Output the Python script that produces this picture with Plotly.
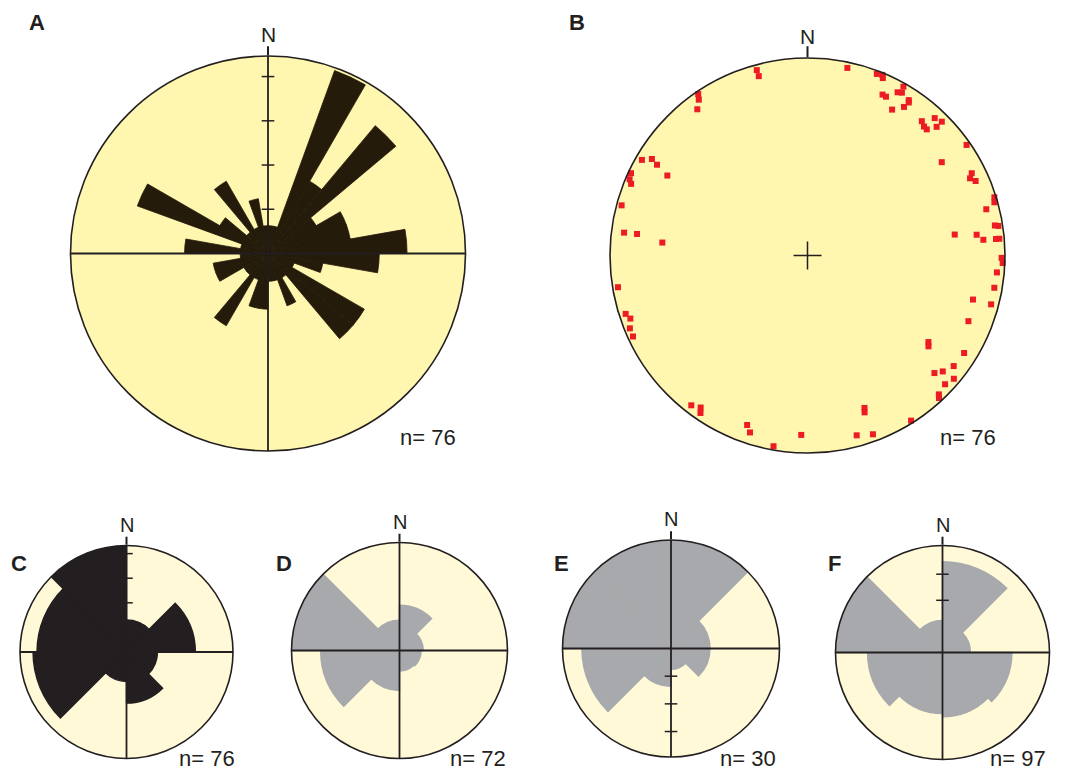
import plotly.graph_objects as go

# The page body has an 8px margin; the figure is sized and positioned to compensate.
PAGE_W, PAGE_H = 1076, 771
OFF = 8
W, H = PAGE_W - OFF, PAGE_H - OFF
FONT = "Liberation Sans, Arial, Helvetica, sans-serif"
INK = "#231F20"

# ---------------- Panel A: rose diagram, 10 degree bins (counts) ----------------
a_bin_start = list(range(0, 360, 10))
a_counts = [1, 1, 7, 3, 6, 2, 3, 3, 5, 4, 2, 1, 4, 4, 1, 2, 1, 1,
            2, 2, 1, 3, 1, 1, 2, 2, 1, 3, 1, 5, 2, 1, 3, 1, 2, 1]
a_ticks = [1.59, 3.18, 4.77, 6.36]
a_rmax = 7.1
a_n = "n= 76"

# ---------------- Panel B: poles (trend in degrees, normalised distance) ----------------
b_trend = [344.7, 344.8, 12.0, 20.9, 22.5, 23.0, 29.6, 28.9, 30.1, 25.0, 26.3, 33.1, 33.5, 30.1, 33.0,
           325.9, 325.1, 323.0, 40.4, 42.8, 45.1, 42.1, 43.4, 45.1, 55.2, 55.2, 63.4, 64.6, 66.1,
           300.0, 301.8, 301.1, 299.7, 295.0, 293.2, 292.1, 285.1, 72.7, 74.1, 75.5, 277.1, 277.2, 275.1,
           81.9, 83.0, 84.9, 80.9, 81.2, 85.0, 85.0, 90.7, 92.2, 95.1, 99.8, 104.9, 104.9,
           260.5, 252.2, 250.4, 247.7, 245.1, 112.2, 125.6, 126.9, 121.9, 127.1, 132.8, 130.6, 130.1,
           133.1, 136.6, 137.3, 217.8, 215.1, 214.2, 159.5, 160.0, 147.9, 199.6, 198.0, 182.0, 164.7,
           159.9, 190.1]
b_dist = [0.973, 0.941, 0.971, 0.984, 0.990, 0.976, 0.983, 0.944, 0.953, 0.899, 0.897, 0.939, 0.929, 0.854, 0.897,
          0.987, 0.962, 0.927, 0.893, 0.948, 0.960, 0.880, 0.879, 0.923, 0.981, 0.828, 0.930, 0.911, 0.931,
          0.968, 0.927, 0.890, 0.817, 0.986, 0.980, 0.964, 0.975, 0.991, 0.984, 0.935, 0.936, 0.870, 0.738,
          0.753, 0.863, 0.894, 0.961, 0.978, 0.958, 0.975, 0.983, 0.989, 0.963, 0.960, 0.867, 0.962,
          0.973, 0.967, 0.952, 0.972, 0.974, 0.880, 0.753, 0.766, 0.934, 0.928, 0.876, 0.902, 0.969,
          0.954, 0.968, 0.982, 0.960, 0.941, 0.964, 0.824, 0.845, 0.987, 0.911, 0.942, 0.909, 0.944,
          0.964, 0.981]
b_n = "n= 76"

# ---------------- Panels C-F: rose diagrams, 45 degree bins ----------------
cf_bin_start = [0, 45, 90, 135, 180, 225, 270, 315]
c_vals = [1.3, 2.8, 1.26, 2.08, 1.2, 3.8, 3.64, 4.8]
c_ticks = [1, 2, 3, 4]
c_rmax = 4.33
c_n = "n= 76"

d_vals = [1.68, 0.88, 0.8, 0.76, 1.48, 2.92, 4.3, 1.12]
d_ticks = []
d_rmax = 4.0
d_n = "n= 72"

e_vals = [4.3, 1.41, 1.41, 0.75, 1.37, 3.22, 4.3, 4.3]
e_ticks = [1, 2, 3]
e_rmax = 3.92
e_n = "n= 30"

f_vals = [3.48, 1.07, 2.66, 2.46, 2.34, 2.87, 4.4, 1.23]
f_ticks = [2, 3]
f_rmax = 4.1
f_n = "n= 97"

# ---------------- styling / geometry (page pixels) ----------------
BG_BIG = "#FFF6B0"
BG_SMALL = "#FFF9D8"
BLACK_A = "#241B0B"
BLACK_C = "#231F20"
GRAY = "#A7A9AC"
RED = "#ED1C24"

panels = {
    "A": dict(cx=268.0, cy=253.5, R=197.5),
    "B": dict(cx=807.5, cy=255.5, R=197.5),
    "C": dict(cx=126.5, cy=652.0, R=106.5),
    "D": dict(cx=399.5, cy=650.5, R=108.0),
    "E": dict(cx=671.0, cy=648.5, R=108.5),
    "F": dict(cx=942.5, cy=652.5, R=107.0),
}


def px(x):
    return (x - OFF) / W


def py(y):
    return 1 - (y - OFF) / H


def polar_cfg(p, rmax, bg, ticklen):
    cx, cy, R = p["cx"], p["cy"], p["R"]
    return dict(
        domain=dict(x=[px(cx - R), px(cx + R)], y=[py(cy + R), py(cy - R)]),
        bgcolor=bg, bargap=0, hole=0,
        radialaxis=dict(range=[0, rmax], visible=False),
        angularaxis=dict(rotation=90, direction="clockwise", showgrid=False,
                         showline=True, linecolor=INK, linewidth=1.6,
                         tickmode="array", tickvals=[0], ticktext=[""],
                         ticks="outside", ticklen=ticklen, tickwidth=1.6, tickcolor=INK,
                         showticklabels=False),
    )


fig = go.Figure()


def add_rose(sub, starts, width, vals, color, edge_w):
    fig.add_trace(go.Barpolar(
        r=vals, theta=[s + width / 2 for s in starts], width=[width] * len(starts),
        marker=dict(color=color, line=dict(color=color, width=edge_w)),
        subplot=sub, showlegend=False, hoverinfo="skip"))


def add_cross(sub, rmax):
    for th in ([0, 0, 180], [90, 90, 270]):
        fig.add_trace(go.Scatterpolar(
            r=[rmax, 0, rmax], theta=th, mode="lines",
            line=dict(color=INK, width=1.8), subplot=sub,
            showlegend=False, hoverinfo="skip"))


def add_ticks(sub, ticks, theta):
    if ticks:
        fig.add_trace(go.Scatterpolar(
            r=ticks, theta=[theta] * len(ticks), mode="markers",
            marker=dict(symbol="line-ew", size=9, line=dict(color=INK, width=1.5)),
            subplot=sub, showlegend=False, hoverinfo="skip"))


# A
add_rose("polar", a_bin_start, 10, a_counts, BLACK_A, 0.8)
add_cross("polar", a_rmax)
add_ticks("polar", a_ticks, 0)

# B
fig.add_trace(go.Scatterpolar(
    r=b_dist, theta=b_trend, mode="markers",
    marker=dict(symbol="square", size=6, color=RED, line=dict(width=0)),
    subplot="polar2", showlegend=False, hoverinfo="skip"))
fig.add_trace(go.Scatterpolar(
    r=[0], theta=[0], mode="markers",
    marker=dict(symbol="cross-thin", size=20, line=dict(color=INK, width=1.5)),
    subplot="polar2", showlegend=False, hoverinfo="skip"))

# C-F
add_rose("polar3", cf_bin_start, 45, c_vals, BLACK_C, 1.4)
add_cross("polar3", c_rmax)
add_ticks("polar3", c_ticks, 0)

add_rose("polar4", cf_bin_start, 45, d_vals, GRAY, 1.4)
add_cross("polar4", d_rmax)
add_ticks("polar4", d_ticks, 0)

add_rose("polar5", cf_bin_start, 45, e_vals, GRAY, 1.4)
add_cross("polar5", e_rmax)
add_ticks("polar5", e_ticks, 180)

add_rose("polar6", cf_bin_start, 45, f_vals, GRAY, 1.4)
add_cross("polar6", f_rmax)
add_ticks("polar6", f_ticks, 0)

fig.update_layout(
    width=W, height=H, margin=dict(l=0, r=0, t=0, b=0),
    paper_bgcolor="white", plot_bgcolor="white", showlegend=False,
    polar=polar_cfg(panels["A"], a_rmax, BG_BIG, 9),
    polar2=polar_cfg(panels["B"], 1.0, BG_BIG, 11),
    polar3=polar_cfg(panels["C"], c_rmax, BG_SMALL, 8),
    polar4=polar_cfg(panels["D"], d_rmax, BG_SMALL, 8),
    polar5=polar_cfg(panels["E"], e_rmax, BG_SMALL, 8),
    polar6=polar_cfg(panels["F"], f_rmax, BG_SMALL, 8),
)

# text annotations (page pixel positions)
letters = [("A", 37, 22), ("B", 577, 22), ("C", 19, 563), ("D", 284, 563), ("E", 561, 563), ("F", 834, 563)]
n_labels = [(a_n, 428, 437), (b_n, 968, 437), (c_n, 207, 758), (d_n, 478, 758), (e_n, 748, 758), (f_n, 1018, 758)]
north = [("A", 21), ("B", 21), ("C", 20), ("D", 20), ("E", 20), ("F", 20)]

ann = []
for t, x, y in letters:
    ann.append(dict(text="<b>%s</b>" % t, x=px(x), y=py(y), xref="paper", yref="paper",
                    xanchor="center", yanchor="middle", showarrow=False,
                    font=dict(family=FONT, size=22, color=INK)))
for t, x, y in n_labels:
    ann.append(dict(text=t, x=px(x), y=py(y), xref="paper", yref="paper",
                    xanchor="center", yanchor="middle", showarrow=False,
                    font=dict(family=FONT, size=22, color=INK)))
for key, s in north:
    p = panels[key]
    ann.append(dict(text="N", x=px(p["cx"]), y=py(p["cy"] - p["R"]), xref="paper", yref="paper",
                    xanchor="center", yanchor="bottom", yshift=8, showarrow=False,
                    font=dict(family=FONT, size=s, color=INK)))
fig.update_layout(annotations=ann)

fig.write_html("out.html")
